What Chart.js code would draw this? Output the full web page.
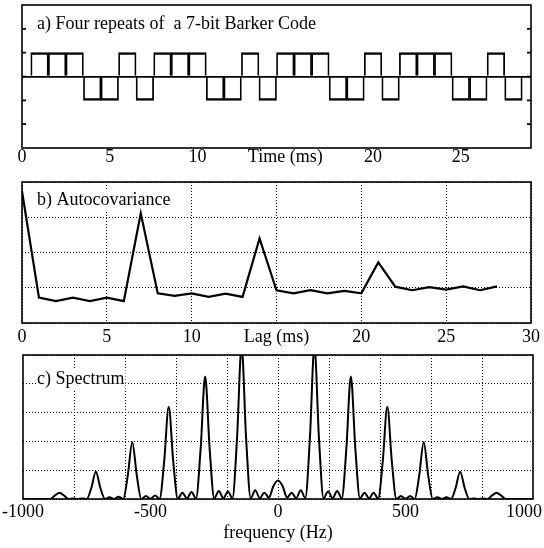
<!DOCTYPE html>
<html>
<head>
<meta charset="utf-8">
<title>Barker code, autocovariance and spectrum</title>
<script src="https://cdn.jsdelivr.net/npm/chart.js@4"></script>
<style>
  html, body { margin: 0; padding: 0; background: #fff; }
  #wrap { position: relative; width: 544px; height: 548px; overflow: hidden; }
  #wrap canvas { position: absolute; left: 0; }
</style>
</head>
<body>
<div id="wrap">
  <canvas id="codeChart" width="544" height="172" style="top:0px"></canvas>
  <canvas id="acovChart" width="544" height="180" style="top:172px"></canvas>
  <canvas id="specChart" width="544" height="196" style="top:352px"></canvas>
</div>
<script>
// ---- DATA ----
// a) four repeats of the 7-bit Barker code (+ + + - - + -), 1 ms per bit
const bitTimes  = [1,2,3,4,5,6,7, 8,9,10,11,12,13,14, 15,16,17,18,19,20,21, 22,23,24,25,26,27,28];
const bitLevels = [1,1,1,-1,-1,1,-1, 1,1,1,-1,-1,1,-1, 1,1,1,-1,-1,1,-1, 1,1,1,-1,-1,1,-1];
const timeTicks  = [0, 5, 10, 15, 20, 25];
const timeLabels = ["0", "5", "10", "Time (ms)", "20", "25"];
const levelTicks = [-2, -1, 0, 1, 2];

// b) autocovariance, one value per ms of lag
const lags = [0,1,2,3,4,5,6,7,8,9,10,11,12,13,14,15,16,17,18,19,20,21,22,23,24,25,26,27,28];
const acov = [27.4, -2.8, -3.8, -2.8, -3.8, -2.8, -3.8,
              21.1, -1.6, -2.3, -1.6, -2.6, -1.7, -2.6,
              14.0, -0.7, -1.6, -0.7, -1.6, -0.9, -1.6,
               7.2,  0.3, -0.7,  0.2, -0.5,  0.4, -0.7, 0.4];
const lagTicks  = [0, 5, 10, 15, 20, 25, 30];
const lagLabels = ["0", "5", "10", "Lag (ms)", "20", "25", "30"];
const acovTicks = [-10, 0, 10, 20, 30];

// c) spectrum, sampled every 1000/56 Hz from -1000 to 1000 Hz
const specStart = -1000;
const specStep  = 1000 / 56;
const spectrum = [
  0,    0,    0,    0,    0,    0,    0,    0.12,
  0.22, 0.12, 0,    0.02, 0,    0.02, 0,    0.38,
  0.95, 0.38, 0,    0.06, 0,    0.08, 0,    0.80,
  1.97, 0.80, 0,    0.10, 0.01, 0.12, 0.01, 1.30,
  3.20, 1.30, 0.01, 0.22, 0.02, 0.24, 0.02, 1.72,
  4.25, 1.72, 0.02, 0.28, 0.03, 0.26, 0.03, 2.10,
  5.30, 2.10, 0.03, 0.30, 0.03, 0.22, 0.05, 0.45,
  0.64, 0.45, 0.05, 0.22, 0.03, 0.30, 0.03, 2.10,
  5.30, 2.10, 0.03, 0.26, 0.03, 0.28, 0.02, 1.72,
  4.25, 1.72, 0.02, 0.22, 0.02, 0.22, 0.01, 1.30,
  3.20, 1.30, 0.01, 0.10, 0.01, 0.10, 0,    0.80,
  1.97, 0.80, 0,    0.06, 0,    0.06, 0,    0.38,
  0.95, 0.38, 0,    0.02, 0,    0.02, 0,    0.12,
  0.22, 0.12, 0,    0,    0,    0,    0,    0,
  0
];
const freqTicks  = [-1000, -500, 0, 500, 1000];
const freqLabels = ["-1000", "-500", "0", "500", "1000\u2003"]; // em space keeps "1000" inside the page
const freqGrid   = [-800, -600, -400, -200, 0, 200, 400, 600, 800];
const specTicks  = [0, 1, 2, 3, 4, 5];

// ---- STYLE ----
const SERIF = "'Liberation Serif', 'Times New Roman', serif";
const INK = "#000";
const DOTS = [1, 2];

// ---- HELPERS ----
const fixedTicks = values => scale => { scale.ticks = values.map(v => ({ value: v })); };

function xAxis(min, max, values, labels, height, pad, showGrid){
  return {
    type: "linear", axis: "x", position: "bottom", min, max, offset: false,
    afterBuildTicks: fixedTicks(values),
    afterFit: s => { s.height = height; s.paddingLeft = 0; s.paddingRight = 0; },
    grid: { display: showGrid, color: INK, lineWidth: 1, drawTicks: false, offset: false },
    border: { display: false, dash: DOTS },
    ticks: {
      autoSkip: false, maxRotation: 0, padding: pad, color: INK,
      font: { family: SERIF, size: 18 },
      callback: (v, i) => labels[i]
    }
  };
}

function yAxis(min, max, values, grid){
  return {
    type: "linear", axis: "y", min, max,
    afterBuildTicks: fixedTicks(values),
    afterFit: s => { s.width = 0; s.paddingTop = 0; s.paddingBottom = 0; },
    grid: Object.assign({ color: INK, lineWidth: 1, drawTicks: false }, grid || {}),
    border: { display: false, dash: (grid && grid.dash) || DOTS },
    ticks: { display: false }
  };
}

// frame, inward ticks and the panel caption (white box so grid dots stop at the text)
const panelPlugin = {
  id: "panel",
  beforeDatasetsDraw(chart, args, opts){
    if (!opts.title) return;
    const ctx = chart.ctx, a = chart.chartArea;
    ctx.save();
    ctx.font = "18px " + SERIF;
    ctx.textBaseline = "alphabetic";
    const m = ctx.measureText(opts.title);
    const x = a.left + opts.titleX, y = a.top + opts.titleY;
    ctx.fillStyle = "#fff";
    ctx.fillRect(x - 1, y - m.actualBoundingBoxAscent - 1, m.width + 2,
                 m.actualBoundingBoxAscent + m.actualBoundingBoxDescent + 2);
    ctx.fillStyle = INK;
    ctx.fillText(opts.title, x, y);
    ctx.restore();
  },
  afterDraw(chart, args, opts){
    const ctx = chart.ctx, a = chart.chartArea;
    ctx.save();
    ctx.strokeStyle = INK;
    ctx.lineWidth = 1.6;
    ctx.strokeRect(a.left, a.top, a.right - a.left, a.bottom - a.top);
    (opts.inTicks || []).forEach(v => {
      const y = chart.scales.y.getPixelForValue(v);
      ctx.beginPath();
      ctx.moveTo(a.left, y);  ctx.lineTo(a.left + 4, y);
      ctx.moveTo(a.right, y); ctx.lineTo(a.right - 4, y);
      ctx.stroke();
    });
    ctx.restore();
  }
};

const baseOptions = (padding, panel) => ({
  responsive: false,
  animation: false,
  events: [],
  layout: { padding },
  plugins: { legend: { display: false }, tooltip: { enabled: false }, panel }
});

// ---- a) BARKER CODE ----
new Chart(document.getElementById("codeChart"), {
  type: "bar",
  data: { datasets: [{
    data: bitTimes.map((t, i) => ({ x: t, y: bitLevels[i] })),
    backgroundColor: "rgba(0,0,0,0)",
    borderColor: INK,
    borderWidth: { top: 1.7, bottom: 1.7, left: 1.1, right: 1.1 },
    borderSkipped: "start",
    barPercentage: 1,
    categoryPercentage: 1
  }]},
  options: Object.assign(baseOptions({ top: 5, left: 22, right: 13, bottom: 0 },
      { title: "a) Four repeats of  a 7-bit Barker Code", titleX: 15, titleY: 24, inTicks: levelTicks }), {
    scales: {
      x: xAxis(0, 29, timeTicks, timeLabels, 24, -2, false),
      y: yAxis(-3, 3, levelTicks, {
        color: c => c.tick && c.tick.value === 0 ? INK : "rgba(0,0,0,0)",
        lineWidth: 1.7, dash: []
      })
    }
  }),
  plugins: [panelPlugin]
});

// ---- b) AUTOCOVARIANCE ----
new Chart(document.getElementById("acovChart"), {
  type: "line",
  data: { datasets: [{
    data: lags.map((l, i) => ({ x: l, y: acov[i] })),
    borderColor: INK, borderWidth: 2.2, pointRadius: 0, tension: 0, fill: false
  }]},
  options: Object.assign(baseOptions({ top: 10, left: 22, right: 13, bottom: 0 },
      { title: "b) Autocovariance", titleX: 15, titleY: 23 }), {
    scales: {
      x: xAxis(0, 30, lagTicks, lagLabels, 29, 3, true),
      y: yAxis(-10, 30, acovTicks)
    }
  }),
  plugins: [panelPlugin]
});

// ---- c) SPECTRUM ----
const specX = xAxis(-1000, 1000, freqTicks, freqLabels, 49, 2, false);
specX.title = { display: true, text: "frequency (Hz)", color: INK,
                font: { family: SERIF, size: 18 }, padding: { top: 0, bottom: 4 } };

new Chart(document.getElementById("specChart"), {
  type: "line",
  data: { datasets: [{
    data: spectrum.map((v, i) => ({ x: specStart + i * specStep, y: v })),
    borderColor: INK, borderWidth: 2, pointRadius: 0,
    cubicInterpolationMode: "monotone", fill: false
  }]},
  options: Object.assign(baseOptions({ top: 3, left: 23, right: 11, bottom: 0 },
      { title: "c) Spectrum", titleX: 14, titleY: 29 }), {
    scales: {
      x: specX,
      xg: {
        type: "linear", axis: "x", position: "top", min: -1000, max: 1000,
        afterBuildTicks: fixedTicks(freqGrid),
        afterFit: s => { s.height = 0; s.paddingLeft = 0; s.paddingRight = 0; },
        grid: { color: INK, lineWidth: 1, drawTicks: false },
        border: { display: false, dash: DOTS },
        ticks: { display: false }
      },
      y: yAxis(0, 5, specTicks)
    }
  }),
  plugins: [panelPlugin]
});
</script>
</body>
</html>
